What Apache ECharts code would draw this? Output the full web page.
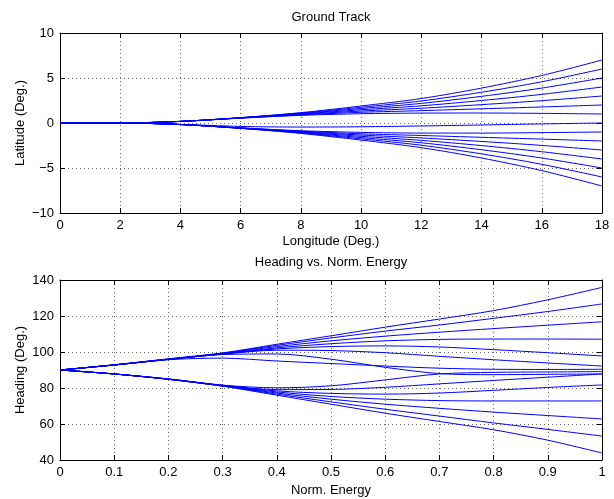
<!DOCTYPE html>
<html>
<head>
<meta charset="utf-8">
<script src="https://cdn.jsdelivr.net/npm/echarts@6/dist/echarts.min.js"></script>
<style>html,body{margin:0;padding:0;background:#fff}#c{width:614px;height:499px}</style>
</head>
<body>
<div id="c"></div>
<script>
// ---------- Ground track data (longitude knots, latitude per trajectory) ----------
const lonKnots = [0, 2, 4, 6, 8, 10, 12, 14, 16, 18];
const latP7 = [0, 0, 0.18, 0.60, 1.15, 1.89, 2.72, 3.88, 5.28, 7.00];
const latP6 = [0, 0, 0.18, 0.59, 1.10, 1.75, 2.45, 3.42, 4.58, 6.00];
const latP5 = [0, 0, 0.18, 0.58, 1.05, 1.61, 2.18, 2.96, 3.88, 5.00];
const latP4 = [0, 0, 0.18, 0.57, 1.00, 1.47, 1.91, 2.50, 3.18, 4.00];
const latP3 = [0, 0, 0.18, 0.56, 0.95, 1.33, 1.64, 2.04, 2.48, 3.00];
const latP2 = [0, 0, 0.18, 0.55, 0.90, 1.19, 1.37, 1.58, 1.78, 2.00];
const latP1 = [0, 0, 0.18, 0.54, 0.85, 1.03, 1.10, 1.11, 1.07, 1.00];
const latZ0 = [0, 0, -0.15, -0.38, -0.45, -0.42, -0.33, -0.22, -0.10, 0.00];
const latN1 = [0, 0, -0.17, -0.54, -0.86, -1.04, -1.12, -1.12, -1.07, -1.00];
const latN2 = [0, 0, -0.17, -0.55, -0.91, -1.20, -1.39, -1.59, -1.79, -2.00];
const latN3 = [0, 0, -0.17, -0.56, -0.96, -1.34, -1.66, -2.05, -2.49, -3.00];
const latN4 = [0, 0, -0.17, -0.57, -1.01, -1.48, -1.93, -2.51, -3.19, -4.00];
const latN5 = [0, 0, -0.17, -0.58, -1.06, -1.62, -2.20, -2.97, -3.89, -5.00];
const latN6 = [0, 0, -0.17, -0.59, -1.11, -1.76, -2.47, -3.43, -4.59, -6.00];
const latN7 = [0, 0, -0.17, -0.60, -1.16, -1.90, -2.74, -3.89, -5.29, -7.00];

// ---------- Heading vs normalized energy ----------
const energyKnots = [0, 0.1, 0.2, 0.3, 0.4, 0.5, 0.6, 0.7, 0.8, 0.9, 1.0];
const hdgU1 = [90, 92.9, 96.2, 99.5, 104.3, 109.0, 113.8, 118.3, 123.0, 129.0, 135.9];
const hdgU2 = [90, 92.9, 96.1, 99.3, 103.7, 107.8, 111.6, 115.0, 118.7, 122.5, 126.7];
const hdgU3 = [90, 92.8, 96.0, 99.1, 103.0, 106.2, 108.8, 111.0, 113.0, 114.9, 116.8];
const hdgU4 = [90, 92.8, 96.0, 99.0, 102.3, 104.6, 106.2, 107.0, 107.2, 107.2, 107.1];
const hdgU5 = [90, 92.8, 95.9, 98.9, 101.7, 103.0, 103.4, 102.8, 101.3, 99.6, 97.8];
const hdgU6 = [90, 92.8, 95.9, 98.8, 101.0, 100.8, 99.6, 97.6, 95.7, 93.9, 92.2];
const hdgU7 = [90, 92.8, 95.9, 98.6, 98.9, 96.0, 91.5, 88.0, 87.4, 87.6, 87.8];
const hdgU8 = [90, 92.7, 95.7, 96.6, 95.0, 93.6, 92.2, 91.0, 90.4, 90.3, 90.4];
const hdgL7 = [90, 87.8, 85.0, 81.6, 80.1, 81.2, 84.5, 87.8, 88.7, 88.9, 89.1];
const hdgL6 = [90, 87.8, 85.0, 81.5, 79.1, 79.2, 80.4, 82.3, 84.2, 86.0, 87.8];
const hdgL5 = [90, 87.8, 85.0, 81.4, 78.4, 77.0, 76.6, 77.2, 78.7, 80.3, 81.7];
const hdgL4 = [90, 87.8, 84.9, 81.3, 77.8, 75.3, 73.8, 73.0, 72.8, 72.8, 72.8];
const hdgL3 = [90, 87.8, 84.9, 81.2, 77.2, 73.8, 71.0, 68.7, 66.6, 64.7, 62.8];
const hdgL2 = [90, 87.8, 84.8, 81.1, 76.6, 72.3, 68.2, 64.4, 60.6, 57.0, 53.3];
const hdgL1 = [90, 87.8, 84.8, 81.0, 76.0, 71.0, 66.0, 61.4, 56.8, 51.0, 43.9];

const latTracks = [latP7, latP6, latP5, latP4, latP3, latP2, latP1, latZ0,
                   latN1, latN2, latN3, latN4, latN5, latN6, latN7];
const hdgTracks = [hdgU1, hdgU2, hdgU3, hdgU4, hdgU5, hdgU6, hdgU7, hdgU8,
                   hdgL7, hdgL6, hdgL5, hdgL4, hdgL3, hdgL2, hdgL1];

const FONT = 'Liberation Sans, Arial, Helvetica, sans-serif';
const minusFmt = v => String(v).replace('-', '\u2212');

function mainAxis(pos, gridIndex, min, max, interval, fmt) {
  return {
    type: 'value', gridIndex, position: pos, min, max, interval,
    axisLine: {show: true, onZero: false, lineStyle: {color: '#000', width: 1}},
    axisTick: {show: true, inside: true, length: 5, lineStyle: {color: '#000'}},
    axisLabel: {show: true, color: '#000', fontFamily: FONT, fontSize: 13, margin: 6, formatter: fmt},
    splitLine: {show: true, lineStyle: {color: '#666', width: 1, type: [1, 3]}}
  };
}
function frameAxis(pos, gridIndex, min, max, interval) {
  return {
    type: 'value', gridIndex, position: pos, min, max, interval,
    axisLine: {show: true, onZero: false, lineStyle: {color: '#000', width: 1}},
    axisTick: {show: true, inside: true, length: 5, lineStyle: {color: '#000'}},
    axisLabel: {show: false},
    splitLine: {show: false}
  };
}

const series = [];
latTracks.forEach(arr => series.push({
  type: 'line', xAxisIndex: 0, yAxisIndex: 0, showSymbol: false, symbol: 'none',
  smooth: 0.3, silent: true,
  lineStyle: {color: '#0000ff', width: 1},
  data: lonKnots.map((x, i) => [x, arr[i]])
}));
hdgTracks.forEach(arr => series.push({
  type: 'line', xAxisIndex: 2, yAxisIndex: 2, showSymbol: false, symbol: 'none',
  smooth: 0.3, silent: true,
  lineStyle: {color: '#0000ff', width: 1},
  data: energyKnots.map((x, i) => [x, arr[i]])
}));

const chart = echarts.init(document.getElementById('c'), null, {renderer: 'canvas'});
chart.setOption({
  animation: false,
  backgroundColor: '#fff',
  grid: [
    {left: 60, top: 33, width: 542, height: 180},
    {left: 60, top: 280, width: 542, height: 180}
  ],
  xAxis: [
    mainAxis('bottom', 0, 0, 18, 2, minusFmt),
    frameAxis('top', 0, 0, 18, 2),
    mainAxis('bottom', 1, 0, 1, 0.1, v => String(+v.toFixed(1))),
    frameAxis('top', 1, 0, 1, 0.1)
  ],
  yAxis: [
    mainAxis('left', 0, -10, 10, 5, minusFmt),
    frameAxis('right', 0, -10, 10, 5),
    mainAxis('left', 1, 40, 140, 20, v => String(v)),
    frameAxis('right', 1, 40, 140, 20)
  ],
  graphic: [
    {type: 'text', x: 331, y: 17, style: {text: 'Ground Track', font: '13px ' + FONT, fill: '#000', textAlign: 'center', textVerticalAlign: 'middle'}},
    {type: 'text', x: 331, y: 241, style: {text: 'Longitude (Deg.)', font: '13px ' + FONT, fill: '#000', textAlign: 'center', textVerticalAlign: 'middle'}},
    {type: 'text', x: 331, y: 262, style: {text: 'Heading vs. Norm. Energy', font: '13px ' + FONT, fill: '#000', textAlign: 'center', textVerticalAlign: 'middle'}},
    {type: 'text', x: 331, y: 490, style: {text: 'Norm. Energy', font: '13px ' + FONT, fill: '#000', textAlign: 'center', textVerticalAlign: 'middle'}},
    {type: 'text', x: 20, y: 123, rotation: Math.PI / 2, style: {text: 'Latitude (Deg.)', font: '13px ' + FONT, fill: '#000', textAlign: 'center', textVerticalAlign: 'middle'}},
    {type: 'text', x: 20, y: 370, rotation: Math.PI / 2, style: {text: 'Heading (Deg.)', font: '13px ' + FONT, fill: '#000', textAlign: 'center', textVerticalAlign: 'middle'}}
  ],
  series
});
</script>
</body>
</html>
